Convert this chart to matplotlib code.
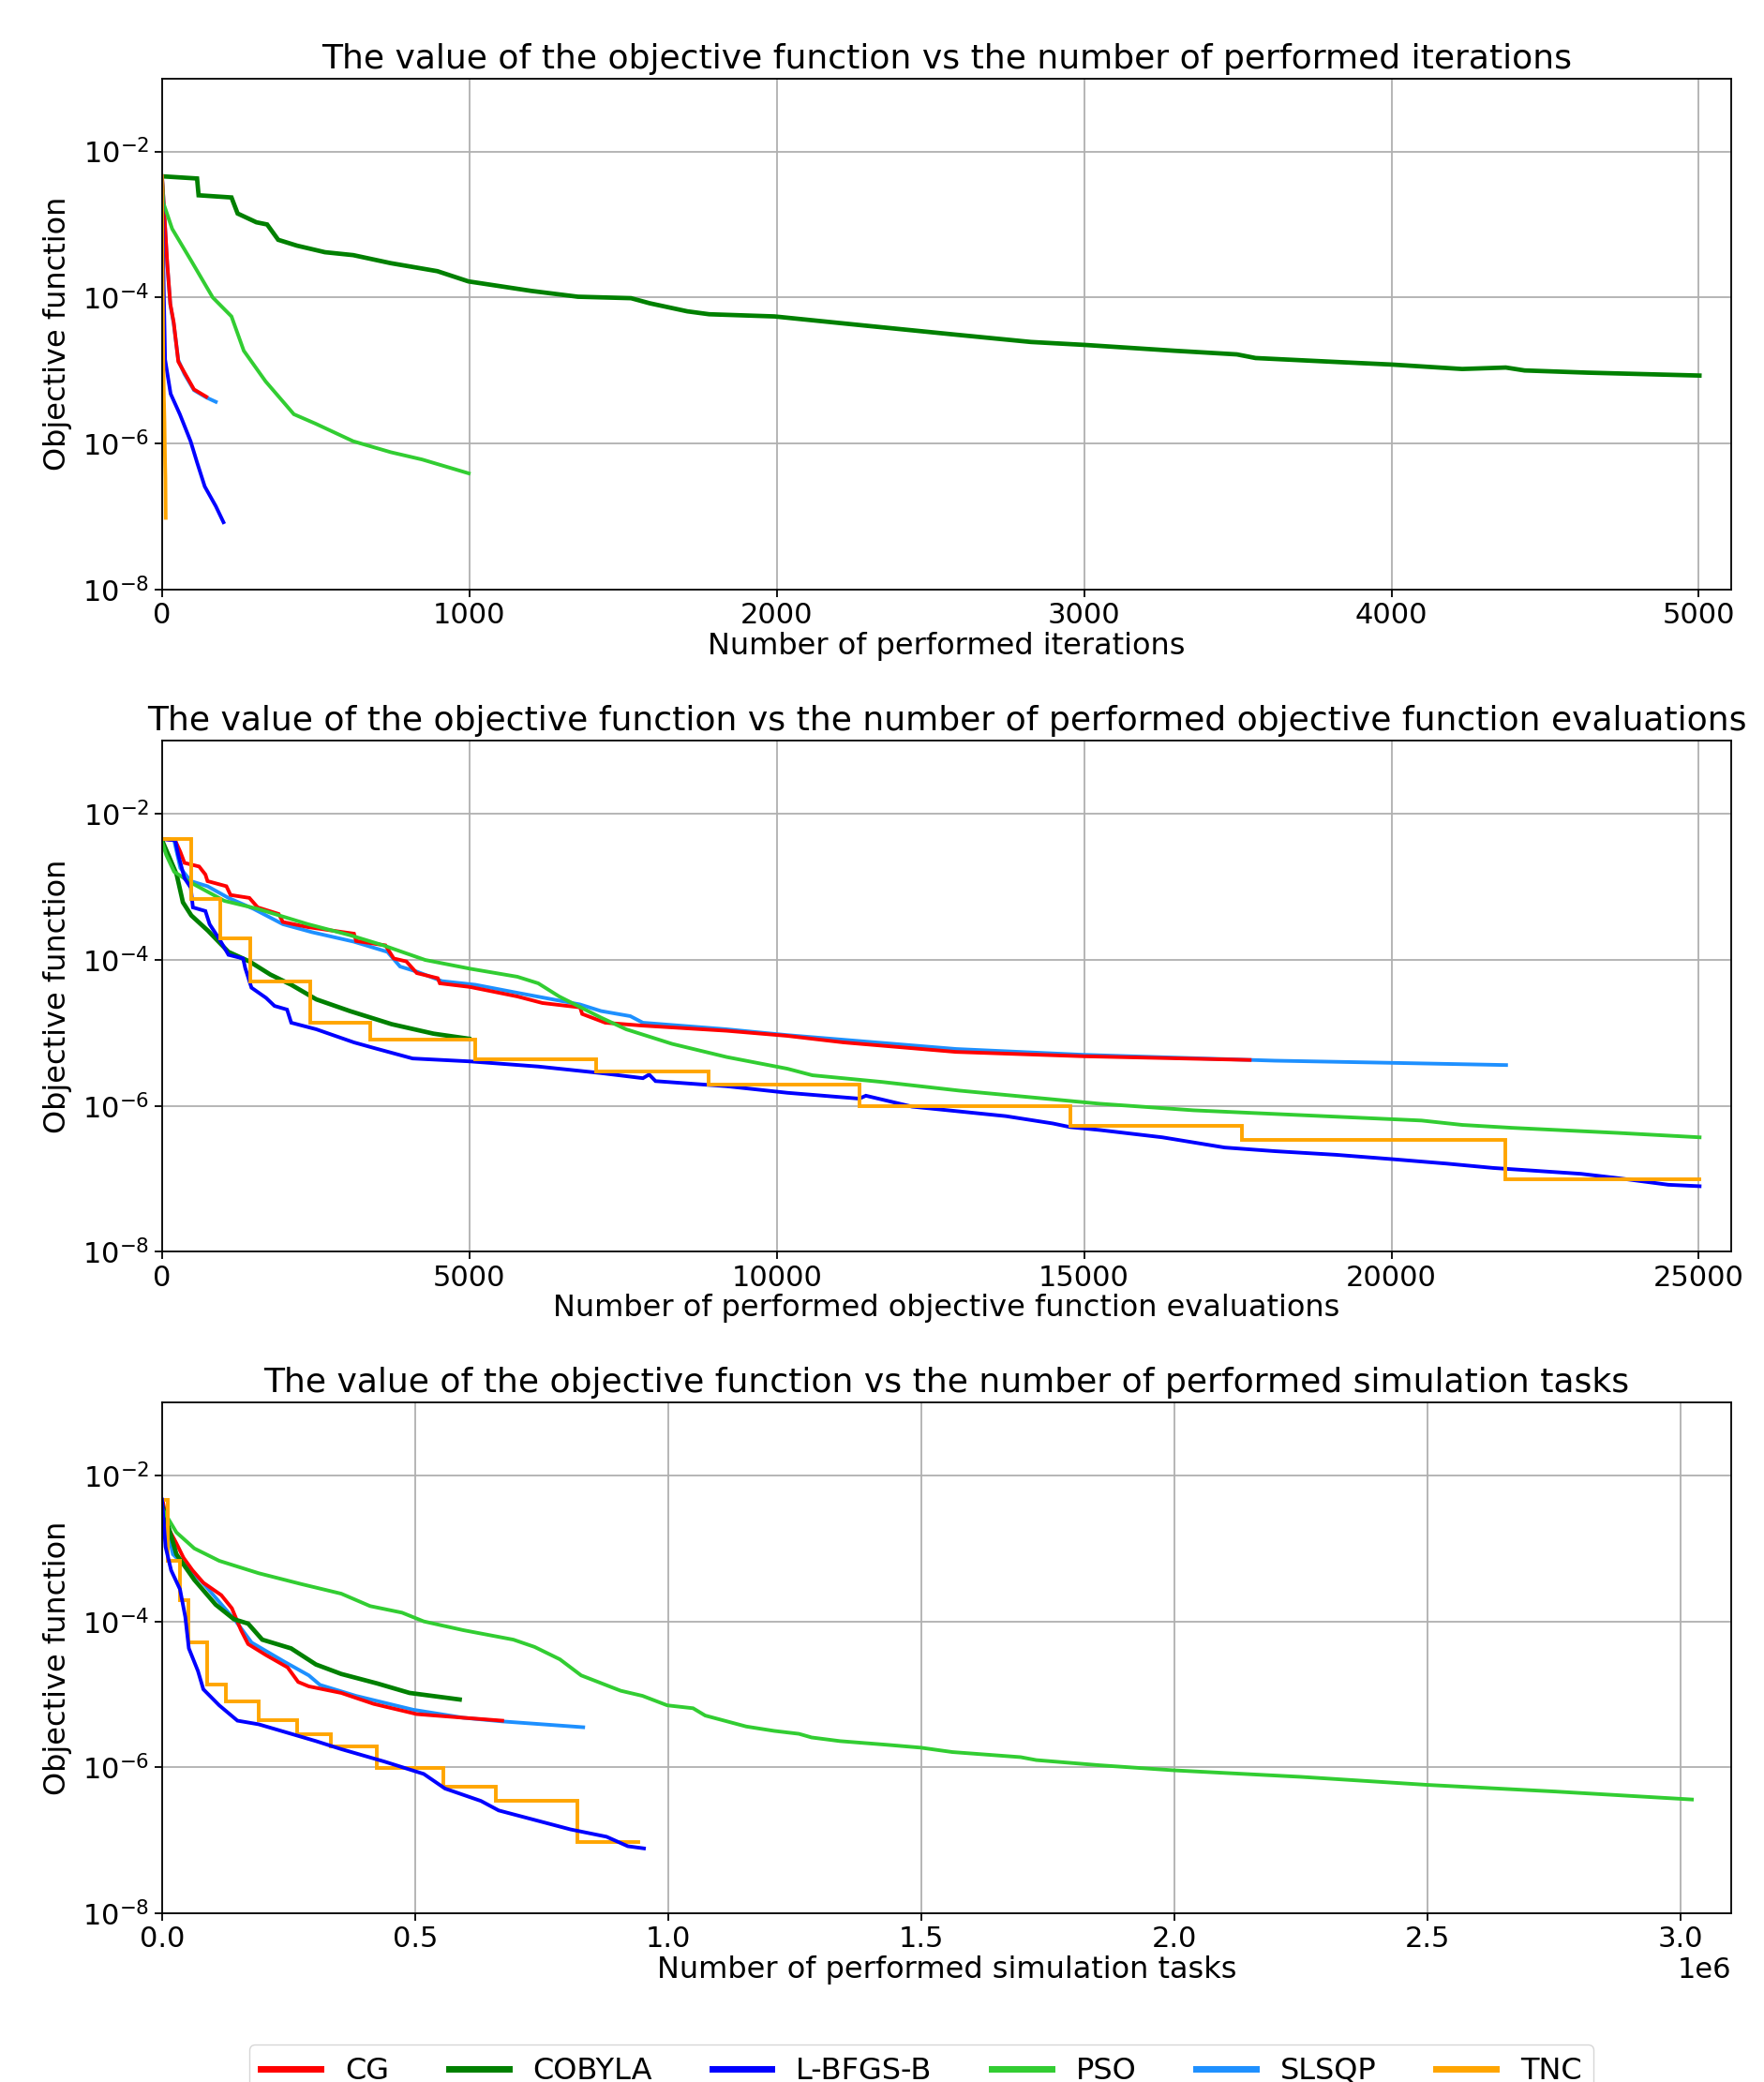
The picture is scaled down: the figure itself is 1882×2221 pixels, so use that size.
import numpy as np
import matplotlib
matplotlib.use("Agg")
import matplotlib.pyplot as plt
from matplotlib.ticker import NullLocator, FixedLocator
from matplotlib.lines import Line2D

# ---------------- data (log10 of objective function) ----------------
methods = ["CG", "COBYLA", "L-BFGS-B", "PSO", "SLSQP", "TNC"]
colors = {"CG": "red", "COBYLA": "green", "L-BFGS-B": "blue",
          "PSO": "limegreen", "SLSQP": "dodgerblue", "TNC": "orange"}

# --- Panel 1: iterations ---
cg_it_x = [0, 2, 17, 27, 38, 53, 73, 104, 144]
cg_it_y = [-2.34, -2.46, -3.53, -4.09, -4.34, -4.88, -5.03, -5.26, -5.36]
slsqp_it_x = [0, 2, 17, 27, 38, 53, 73, 104, 144, 175]
slsqp_it_y = [-2.34, -2.46, -3.55, -4.10, -4.36, -4.86, -5.05, -5.27, -5.37, -5.43]
lbfgsb_it_x = [0, 4, 10, 28, 58, 93, 114, 139, 175, 200]
lbfgsb_it_y = [-2.34, -3.53, -4.85, -5.32, -5.60, -5.97, -6.26, -6.59, -6.86, -7.08]
tnc_it_x = [0, 1, 2, 3, 4, 5, 6, 7, 8, 9, 10, 11, 12]
tnc_it_y = [-2.34, -3.17, -3.70, -4.29, -4.86, -5.09, -5.36, -5.53, -5.71,
            -6.01, -6.28, -6.47, -7.02]
pso_it_x = [0, 4, 33, 94, 165, 226, 266, 337, 429, 500, 622, 744, 846, 998]
pso_it_y = [-2.36, -2.70, -3.06, -3.49, -4.00, -4.26, -4.73, -5.15, -5.60,
            -5.73, -5.97, -6.12, -6.22, -6.41]
cobyla_it_x = [0, 114, 119, 226, 246, 307, 342, 378, 439, 530, 622, 744, 896,
               997, 1201, 1353, 1526, 1587, 1709, 1780, 1993, 2298, 2583, 2827,
               3001, 3294, 3497, 3558, 3802, 4004, 4230, 4372, 4433, 4636, 5002]
cobyla_it_y = [-2.34, -2.37, -2.60, -2.63, -2.85, -2.97, -3.00, -3.21, -3.29,
               -3.38, -3.42, -3.53, -3.64, -3.78, -3.91, -3.99, -4.01, -4.08,
               -4.19, -4.23, -4.26, -4.39, -4.51, -4.61, -4.65, -4.73, -4.78,
               -4.83, -4.88, -4.92, -4.98, -4.96, -5.00, -5.03, -5.07]

# --- Panel 2: objective function evaluations ---
cg_ev_x = [0, 213, 298, 366, 604, 706, 740, 1047, 1115, 1421, 1557, 1898, 1966,
           2374, 3123, 3157, 3634, 3770, 3974, 4145, 4485, 4519, 5010, 5780,
           6188, 6801, 6835, 7210, 7823, 9185, 10172, 11090, 12917, 15001, 17694]
cg_ev_y = [-2.34, -2.36, -2.52, -2.67, -2.72, -2.83, -2.92, -2.99, -3.11, -3.15,
           -3.28, -3.37, -3.48, -3.55, -3.64, -3.74, -3.80, -3.98, -4.02, -4.18,
           -4.25, -4.32, -4.37, -4.50, -4.59, -4.65, -4.74, -4.86, -4.90, -4.97,
           -5.04, -5.13, -5.26, -5.32, -5.37]
slsqp_ev_x = [0, 196, 298, 468, 740, 1081, 1489, 1966, 2442, 3123, 3668, 3872,
              4145, 4553, 5097, 5780, 6801, 7141, 7618, 7823, 9185, 10172, 12917,
              15001, 18105, 20023, 21865]
slsqp_ev_y = [-2.34, -2.36, -2.74, -2.92, -2.99, -3.15, -3.30, -3.51, -3.62,
              -3.75, -3.89, -4.09, -4.16, -4.29, -4.34, -4.45, -4.61, -4.70,
              -4.77, -4.86, -4.95, -5.03, -5.22, -5.30, -5.38, -5.41, -5.44]
cobyla_ev_x = [0, 102, 238, 340, 476, 748, 1081, 1421, 1762, 2102, 2510, 3055,
               3736, 4417, 4995]
cobyla_ev_y = [-2.36, -2.56, -2.83, -3.21, -3.39, -3.60, -3.89, -4.02, -4.20,
               -4.34, -4.54, -4.70, -4.88, -5.01, -5.08]
lbfgsb_ev_x = [0, 213, 264, 366, 468, 502, 706, 774, 944, 1081, 1319, 1353, 1455,
               1693, 1830, 2034, 2102, 2510, 3123, 3464, 4077, 5010, 6120, 7141,
               7823, 7925, 8028, 9185, 10172, 11341, 11450, 12204, 13728, 14490,
               14773, 15255, 16272, 16780, 17287, 18105, 19107, 20023, 20895,
               21658, 23082, 23692, 24504, 25013]
lbfgsb_ev_y = [-2.34, -2.36, -2.56, -2.88, -3.01, -3.28, -3.33, -3.51, -3.73,
               -3.93, -3.98, -4.11, -4.38, -4.52, -4.63, -4.68, -4.86, -4.95,
               -5.13, -5.21, -5.35, -5.39, -5.46, -5.55, -5.62, -5.57, -5.66,
               -5.73, -5.82, -5.90, -5.86, -6.01, -6.14, -6.24, -6.29, -6.33,
               -6.43, -6.50, -6.57, -6.62, -6.67, -6.73, -6.79, -6.85, -6.93,
               -6.99, -7.08, -7.10]
pso_ev_x = [0, 68, 196, 468, 1013, 1557, 2374, 3055, 3600, 4281, 5010, 5780,
            6120, 6460, 7141, 7550, 8299, 9185, 10172, 10580, 11697, 12968,
            14239, 15255, 16780, 18105, 20489, 21150, 21963, 23692, 25013]
pso_ev_y = [-2.38, -2.56, -2.79, -2.94, -3.19, -3.30, -3.51, -3.66, -3.80, -4.00,
            -4.12, -4.23, -4.32, -4.50, -4.79, -4.95, -5.15, -5.33, -5.49, -5.58,
            -5.67, -5.79, -5.89, -5.97, -6.06, -6.11, -6.20, -6.26, -6.30,
            -6.37, -6.43]
tnc_ev_x = [0, 468, 944, 1441, 2408, 3381, 5097, 7058, 8889, 11341, 14773,
            17567, 21848, 25013]
tnc_ev_y = [-2.34, -3.17, -3.70, -4.29, -4.86, -5.09, -5.36, -5.53, -5.71, -6.00,
            -6.27, -6.46, -7.01, -7.01]

# --- Panel 3: simulation tasks (millions) ---
cg_sim_x = [0.0, 0.0015, 0.0107, 0.0284, 0.0426, 0.0603, 0.0816, 0.117, 0.138,
            0.156, 0.170, 0.205, 0.248, 0.269, 0.290, 0.354, 0.418, 0.503,
            0.595, 0.672]
cg_sim_y = [-2.34, -2.35, -2.70, -2.93, -3.13, -3.30, -3.47, -3.64, -3.82, -4.12,
            -4.31, -4.46, -4.63, -4.83, -4.89, -4.98, -5.13, -5.27, -5.32, -5.36]
slsqp_sim_x = [0.0, 0.0215, 0.078, 0.145, 0.177, 0.241, 0.290, 0.312, 0.383,
               0.496, 0.595, 0.672, 0.832]
slsqp_sim_y = [-2.34, -3.08, -3.45, -3.99, -4.29, -4.55, -4.74, -4.87, -5.02,
               -5.21, -5.32, -5.37, -5.45]
cobyla_sim_x = [0.0, 0.0142, 0.0284, 0.0638, 0.106, 0.142, 0.170, 0.198, 0.255,
                0.304, 0.354, 0.425, 0.489, 0.588]
cobyla_sim_y = [-2.40, -2.74, -3.08, -3.43, -3.77, -3.97, -4.03, -4.25, -4.37,
                -4.59, -4.72, -4.85, -4.98, -5.07]
lbfgsb_sim_x = [0.0, 0.007, 0.018, 0.0355, 0.046, 0.053, 0.071, 0.0816, 0.113,
                0.149, 0.191, 0.255, 0.304, 0.354, 0.439, 0.517, 0.559, 0.630,
                0.665, 0.736, 0.807, 0.878, 0.920, 0.952]
lbfgsb_sim_y = [-2.33, -2.98, -3.30, -3.56, -3.94, -4.37, -4.68, -4.93, -5.15,
                -5.36, -5.41, -5.54, -5.64, -5.75, -5.92, -6.09, -6.29, -6.46,
                -6.59, -6.72, -6.85, -6.95, -7.08, -7.11]
pso_sim_x = [0.0, 0.0284, 0.0638, 0.113, 0.191, 0.276, 0.354, 0.411, 0.474,
             0.517, 0.595, 0.694, 0.736, 0.786, 0.828, 0.906, 0.949, 0.998,
             1.049, 1.073, 1.154, 1.209, 1.258, 1.283, 1.339, 1.431, 1.499,
             1.561, 1.696, 1.727, 1.850, 1.998, 2.25, 2.50, 2.75, 3.022]
pso_sim_y = [-2.45, -2.78, -3.00, -3.17, -3.34, -3.49, -3.62, -3.79, -3.88,
             -4.00, -4.12, -4.25, -4.35, -4.52, -4.74, -4.95, -5.02, -5.15,
             -5.19, -5.29, -5.44, -5.50, -5.54, -5.59, -5.64, -5.69, -5.73,
             -5.79, -5.86, -5.90, -5.97, -6.04, -6.13, -6.24, -6.33, -6.44]
tnc_sim_x = [0.0, 0.0107, 0.0355, 0.053, 0.0886, 0.127, 0.191, 0.266, 0.333,
             0.425, 0.556, 0.660, 0.821, 0.940]
tnc_sim_y = [-2.33, -3.17, -3.71, -4.29, -4.86, -5.10, -5.35, -5.54, -5.71,
             -6.01, -6.27, -6.46, -7.02, -7.02]

titles = ["The value of the objective function vs the number of performed iterations",
          "The value of the objective function vs the number of performed objective function evaluations",
          "The value of the objective function vs the number of performed simulation tasks"]
xlabels = ["Number of performed iterations",
           "Number of performed objective function evaluations",
           "Number of performed simulation tasks"]
ylabel = "Objective function"
xlims = [(0, 5106), (0, 25530), (0, 3.10e6)]
yticks = [1e-8, 1e-6, 1e-4, 1e-2]

panels = [
    {"SLSQP": (slsqp_it_x, slsqp_it_y), "CG": (cg_it_x, cg_it_y),
     "COBYLA": (cobyla_it_x, cobyla_it_y), "PSO": (pso_it_x, pso_it_y),
     "L-BFGS-B": (lbfgsb_it_x, lbfgsb_it_y), "TNC": (tnc_it_x, tnc_it_y)},
    {"SLSQP": (slsqp_ev_x, slsqp_ev_y), "CG": (cg_ev_x, cg_ev_y),
     "COBYLA": (cobyla_ev_x, cobyla_ev_y), "PSO": (pso_ev_x, pso_ev_y),
     "L-BFGS-B": (lbfgsb_ev_x, lbfgsb_ev_y), "TNC": (tnc_ev_x, tnc_ev_y)},
    {"SLSQP": (slsqp_sim_x, slsqp_sim_y), "CG": (cg_sim_x, cg_sim_y),
     "COBYLA": (cobyla_sim_x, cobyla_sim_y), "PSO": (pso_sim_x, pso_sim_y),
     "TNC": (tnc_sim_x, tnc_sim_y), "L-BFGS-B": (lbfgsb_sim_x, lbfgsb_sim_y)},
]
x_scale = [1.0, 1.0, 1e6]

# ---------------- plotting ----------------
FS_TICK = 22
FS_TITLE = 26
FS_LABEL = 23
FS_LEG = 23
plt.rcParams["font.family"] = ["DejaVu Sans"]
fig = plt.figure(figsize=(18.83, 22.21), dpi=100)

left, width, height = 0.0918, 0.8892, 0.2454
bottoms = [0.7169, 0.3987, 0.0810]

for i in range(3):
    ax = fig.add_axes([left, bottoms[i], width, height])
    for name, (xs, ys) in panels[i].items():
        x = np.asarray(xs, dtype=float) * x_scale[i]
        y = np.power(10.0, np.asarray(ys, dtype=float))
        ds = "steps-post" if (name == "TNC" and i > 0) else "default"
        lw = 3.4 if name == "COBYLA" else 2.8
        ax.plot(x, y, color=colors[name], lw=lw, drawstyle=ds,
                solid_joinstyle="miter")
    ax.set_yscale("log")
    ax.set_ylim(1e-8, 1e-1)
    ax.yaxis.set_major_locator(FixedLocator(yticks))
    ax.yaxis.set_minor_locator(NullLocator())
    ax.set_xlim(*xlims[i])
    ax.grid(True, color="#b0b0b0", lw=1.3)
    ax.set_title(titles[i], fontsize=FS_TITLE, pad=8)
    ax.set_xlabel(xlabels[i], fontsize=FS_LABEL, labelpad=2)
    ax.set_ylabel(ylabel, fontsize=FS_LABEL, labelpad=8)
    ax.tick_params(labelsize=FS_TICK, width=1.3, length=6)
    ax.xaxis.get_offset_text().set_fontsize(FS_TICK)
    for s in ax.spines.values():
        s.set_linewidth(1.3)

handles = [Line2D([], [], color=colors[m], lw=5) for m in methods]
fig.legend(handles, methods, loc="upper center", bbox_to_anchor=(0.522, 0.0180),
           borderaxespad=0.0, ncol=6, fontsize=FS_LEG, frameon=True,
           handlelength=2.0, columnspacing=2.0)

fig.savefig("out.png", dpi=100)
